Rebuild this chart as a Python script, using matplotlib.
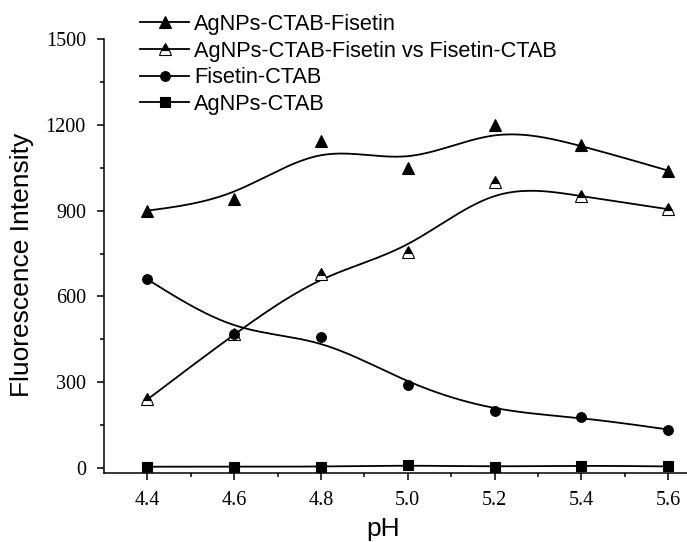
import numpy as np
import matplotlib.pyplot as plt

# pH-Werte und Fluoreszenzintensitäten
ph = np.array([4.4, 4.6, 4.8, 5.0, 5.2, 5.4, 5.6])
agnps_ctab_fisetin = np.array([900, 940, 1143, 1050, 1200, 1128, 1040])
agnps_vs_fisetin = np.array([240, 470, 680, 755, 1000, 950, 905])
fisetin_ctab = np.array([660, 470, 460, 292, 198, 178, 135])
agnps_ctab = np.array([5, 5, 5, 10, 5, 9, 6])

labels = ['AgNPs-CTAB-Fisetin', 'AgNPs-CTAB-Fisetin vs Fisetin-CTAB',
          'Fisetin-CTAB', 'AgNPs-CTAB']


def bspline(x, y, n=40):
    # kubischer B-Spline (wie Origin "B-Spline"), Endpunkte werden getroffen
    px = np.r_[2*x[0] - x[1], x, 2*x[-1] - x[-2]]
    py = np.r_[2*y[0] - y[1], y, 2*y[-1] - y[-2]]
    t = np.linspace(0, 1, n)
    b0 = (1 - t)**3 / 6
    b1 = (3*t**3 - 6*t**2 + 4) / 6
    b2 = (-3*t**3 + 3*t**2 + 3*t + 1) / 6
    b3 = t**3 / 6
    xs, ys = [], []
    for i in range(len(px) - 3):
        xs.append(b0*px[i] + b1*px[i+1] + b2*px[i+2] + b3*px[i+3])
        ys.append(b0*py[i] + b1*py[i+1] + b2*py[i+2] + b3*py[i+3])
    return np.concatenate(xs), np.concatenate(ys)


W, H = 687, 542
fig = plt.figure(figsize=(W/100, H/100), dpi=100)
ax = fig.add_axes([104/W, 1 - 473/H, 607.6/W, (473 - 39)/H])

series = [
    (agnps_ctab_fisetin, dict(marker='^', markersize=8.5, markerfacecolor='black')),
    (agnps_vs_fisetin, dict(marker='^', markersize=8.5, markerfacecolor='black',
                            fillstyle='top', markerfacecoloralt='white')),
    (fisetin_ctab, dict(marker='o', markersize=7, markerfacecolor='black')),
    (agnps_ctab, dict(marker='s', markersize=6.5, markerfacecolor='black')),
]

handles = []
for (vals, mk), lab in zip(series, labels):
    sx, sy = bspline(ph, vals)
    ax.plot(sx, sy, color='black', linewidth=1.3, zorder=2)
    ax.plot(ph, vals, linestyle='none', markeredgecolor='black',
            markeredgewidth=0.8, zorder=3, **mk)
    h, = ax.plot([], [], color='black', linewidth=1.3, markeredgecolor='black',
                 markeredgewidth=0.8, label=lab, **mk)
    handles.append(h)

ax.set_xlim(4.3, 5.7)
ax.set_ylim(-17, 1500)
ax.set_xticks(ph)
ax.set_xticklabels(['%.1f' % v for v in ph])
ax.set_xticks(np.arange(4.5, 5.6, 0.2), minor=True)
ax.set_yticks(np.arange(0, 1501, 300))
ax.set_yticks(np.arange(150, 1500, 300), minor=True)

ax.spines['top'].set_visible(False)
ax.spines['right'].set_visible(False)
for s in ['left', 'bottom']:
    ax.spines[s].set_linewidth(1.1)

ax.tick_params(which='major', direction='out', length=5, width=1.1, pad=8)
ax.tick_params(which='minor', direction='out', length=3, width=1.1)
for lbl in ax.get_xticklabels() + ax.get_yticklabels():
    lbl.set_fontfamily('Liberation Serif')
    lbl.set_fontsize(14.5)

ax.set_xlabel('pH', fontfamily='Liberation Sans', fontsize=19)
ax.set_ylabel('Fluorescence Intensity', fontfamily='Liberation Sans', fontsize=19)
ax.xaxis.set_label_coords((383 - 104)/607.6, -(529 - 473)/434, transform=ax.transAxes)
ax.yaxis.set_label_coords(-(104 - 22)/607.6, (473 - 265)/434, transform=ax.transAxes)
ax.xaxis.label.set_va('center')
ax.yaxis.label.set_va('center')

fig.legend(handles=handles, loc='upper left', bbox_to_anchor=(140/W, 1 - 14/H),
           frameon=False, borderpad=0, borderaxespad=0, handlelength=2.25,
           handletextpad=0.23, labelspacing=0.26,
           prop={'family': 'Liberation Sans', 'size': 15.7})

plt.savefig('out.png', dpi=100)
